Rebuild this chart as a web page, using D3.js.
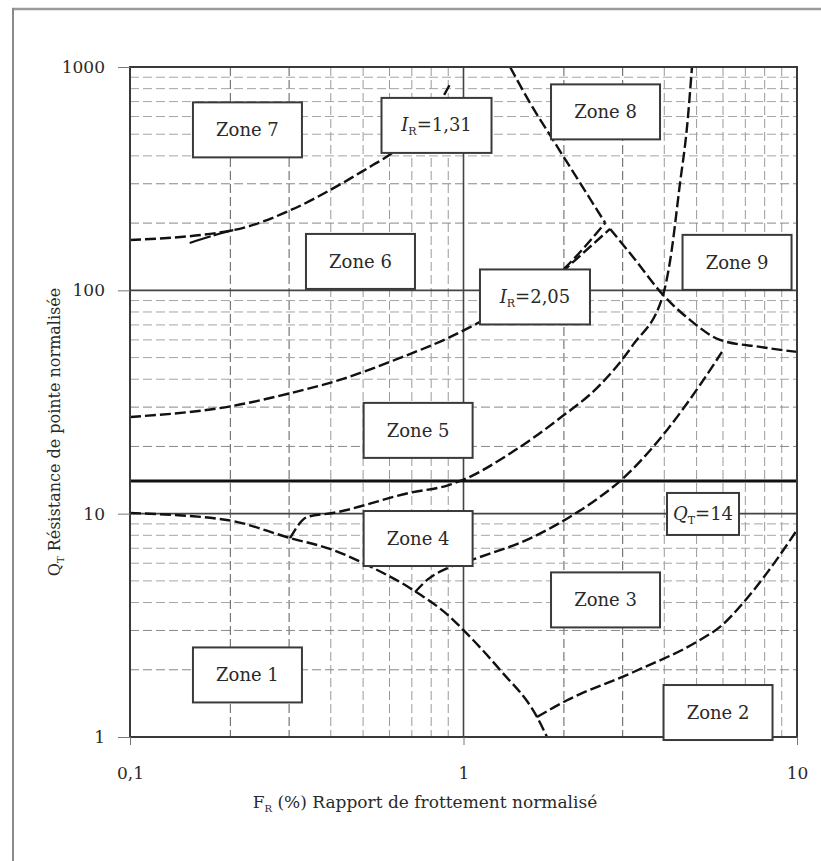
<!DOCTYPE html>
<html>
<head>
<meta charset="utf-8">
<script src="https://cdn.jsdelivr.net/npm/d3@7"></script>
<style>
  html, body { margin: 0; padding: 0; background: #fff; }
  svg { display: block; }
  text { font-family: "DejaVu Serif", "Liberation Serif", serif; fill: #2a2a2a; }
</style>
</head>
<body>
<svg id="chart" width="821" height="861"></svg>
<script>
// ---------- data (Fr %, Qt) ----------
const xTicks = [0.1, 1, 10];
const xTickLabels = ["0,1", "1", "10"];
const yTicks = [1, 10, 100, 1000];
const yTickLabels = ["1", "10", "100", "1000"];
const qtThreshold = 14;

// boundary I_R = 1,31 (zone 7 / zone 6)
const boundaryIR131 = [[0.1,168],[0.204,186],[0.304,229],[0.435,303],[0.535,364],[0.582,392],[0.868,735],[0.92,860]];
const boundaryIR131b = [[0.151,163],[0.19,181],[0.204,186]];
// boundary I_R = 2,05 (zone 6 / zone 5)
const boundaryIR205 = [[0.1,27.1],[0.204,30.4],[0.304,34.7],[0.406,38.9],[0.645,49.8],[0.899,61.2],[1.121,72.2],[1.972,122.2],[2.66,200.4]];
const boundaryIR205b = [[1.96,119.7],[2.75,188.4]];
// zone 8 lower-left boundary
const boundaryZone8 = [[1.379,1000],[1.583,690.6],[1.855,471.6],[2.236,302.7],[2.66,200.4]];
// zone 9 lower boundary
const boundaryZone9 = [[2.75,188.4],[3.223,141.1],[3.966,95.4],[4.777,73.7],[5.876,60.0],[7.746,55.8],[10,53.0]];
// zone 5 / zone 4 boundary then zone 8 / zone 9 boundary
const boundaryZone5 = [[0.302,7.78],[0.340,9.66],[0.406,10.07],[0.691,12.4],[0.899,13.4],[1.0,14.2],[1.379,18.6],[1.947,26.8],[2.567,37.7],[3.223,57.0],[3.966,95.4],[4.162,135],[4.46,302.7],[4.68,539],[4.843,1000]];
// zone 1 upper boundary
const boundaryZone1 = [[0.1,10.07],[0.195,9.37],[0.302,7.78],[0.406,6.88],[0.514,5.89],[0.706,4.55],[0.911,3.45],[1.0,3.01],[1.286,2.0],[1.661,1.23],[1.78,1.0]];
// zone 4 / zone 3 boundary
const boundaryZone4 = [[0.716,4.46],[0.778,5.05],[0.911,5.77],[1.098,6.33],[1.616,7.86],[2.13,9.87],[2.567,11.9],[2.947,14.0],[4.077,23.7],[5.118,37.7],[5.957,53.0]];
// zone 3 / zone 2 boundary
const boundaryZone3 = [[1.661,1.23],[2.044,1.46],[3.223,1.95],[5.118,2.72],[5.876,3.11],[6.889,3.98],[8.131,5.43],[10,8.45]];

// labels: text and centre in data units
const zoneNames = ["Zone 7","Zone 8","Zone 6","Zone 9","Zone 5","Zone 4","Zone 3","Zone 1","Zone 2"];
const zoneFr   = [0.225, 2.666, 0.491, 6.61, 0.731, 0.731, 2.666, 0.225, 5.797];
const zoneQt   = [523, 629.6, 134.7, 133.4, 23.6, 7.74, 4.11, 1.896, 1.287];
const irLabels = [{main:"I", sub:"R", rest:"=1,31", fr:0.830, qt:547.6}, {main:"I", sub:"R", rest:"=2,05", fr:1.638, qt:93.4}];
const qLabel = {main:"Q", sub:"T", rest:"=14", fr:5.226, qt:9.97};

// ---------- drawing ----------
const svg = d3.select("#chart");
const L = 130, R = 797, T = 67, B = 737;
const x = d3.scaleLog().domain([0.1, 10]).range([L, R]);
const y = d3.scaleLog().domain([1, 1000]).range([B, T]);

// outer frame (top and left edges visible)
svg.append("line").attr("x1", 12).attr("x2", 821).attr("y1", 9).attr("y2", 9)
  .attr("stroke", "#9a9a9a").attr("stroke-width", 2.5);
svg.append("line").attr("x1", 13).attr("x2", 13).attr("y1", 8).attr("y2", 861)
  .attr("stroke", "#8a8a8a").attr("stroke-width", 2);

const g = svg.append("g");

// minor grid
const minors = [];
[0.1, 1].forEach(d => { for (let k = 2; k <= 9; k++) minors.push(+(d * k).toFixed(2)); });
const minorsY = [];
[1, 10, 100].forEach(d => { for (let k = 2; k <= 9; k++) minorsY.push(d * k); });
const lead = v => { const m = v / Math.pow(10, Math.floor(Math.log10(v) + 1e-9)); return Math.round(m); };

g.selectAll("line.vx").data(minors).enter().append("line")
  .attr("x1", d => x(d)).attr("x2", d => x(d)).attr("y1", T).attr("y2", B)
  .attr("stroke", d => lead(d) <= 3 ? "#777" : "#9a9a9a")
  .attr("stroke-width", d => lead(d) <= 3 ? 1.2 : 1)
  .attr("stroke-dasharray", "9,4");
g.selectAll("line.hy").data(minorsY).enter().append("line")
  .attr("x1", L).attr("x2", R).attr("y1", d => y(d)).attr("y2", d => y(d))
  .attr("stroke", d => lead(d) <= 3 ? "#888" : "#a5a5a5")
  .attr("stroke-width", 1)
  .attr("stroke-dasharray", "9,4");

// decade lines
g.append("line").attr("x1", x(1)).attr("x2", x(1)).attr("y1", T).attr("y2", B)
  .attr("stroke", "#444").attr("stroke-width", 1.6);
[10, 100].forEach(v => g.append("line").attr("x1", L).attr("x2", R).attr("y1", y(v)).attr("y2", y(v))
  .attr("stroke", "#444").attr("stroke-width", 1.6));

// Qt = 14 line
g.append("line").attr("x1", L).attr("x2", R).attr("y1", y(qtThreshold)).attr("y2", y(qtThreshold))
  .attr("stroke", "#111").attr("stroke-width", 3);

// curves
const line = d3.line().x(d => x(d[0])).y(d => y(d[1])).curve(d3.curveMonotoneX);
const curves = [boundaryIR131, boundaryIR205, boundaryIR205b, boundaryZone8, boundaryZone9,
                boundaryZone5, boundaryZone1, boundaryZone4, boundaryZone3];
g.selectAll("path.curve").data(curves).enter().append("path")
  .attr("d", line).attr("fill", "none").attr("stroke", "#111")
  .attr("stroke-width", 2.4).attr("stroke-dasharray", "11,4");
g.append("path").attr("d", line(boundaryIR131b)).attr("fill", "none").attr("stroke", "#111")
  .attr("stroke-width", 2.2).attr("stroke-dasharray", "22,3");

// plot border
g.append("rect").attr("x", L).attr("y", T).attr("width", R - L).attr("height", B - T)
  .attr("fill", "none").attr("stroke", "#3a3a3a").attr("stroke-width", 2);

// label boxes
function box(cx, cy, w, h) {
  g.append("rect").attr("x", cx - w / 2).attr("y", cy - h / 2).attr("width", w).attr("height", h)
    .attr("fill", "#fff").attr("stroke", "#3a3a3a").attr("stroke-width", 2);
}
zoneNames.forEach((n, i) => {
  const cx = x(zoneFr[i]), cy = y(zoneQt[i]);
  box(cx, cy, 109, 55);
  g.append("text").attr("x", cx).attr("y", cy).attr("text-anchor", "middle")
    .attr("dominant-baseline", "central").attr("font-size", 18).text(n);
});
function subLabel(lb, w, h) {
  const cx = x(lb.fr), cy = y(lb.qt);
  box(cx, cy, w, h);
  const t = g.append("text").attr("x", cx).attr("y", cy + 6).attr("text-anchor", "middle").attr("font-size", 18);
  t.append("tspan").attr("font-style", "italic").text(lb.main);
  t.append("tspan").attr("font-size", 11).attr("dy", 4).text(lb.sub);
  t.append("tspan").attr("dy", -4).text(lb.rest);
}
irLabels.forEach(lb => subLabel(lb, 110, 55));
subLabel(qLabel, 72, 42);

// axes
const yAxis = d3.axisLeft(y).tickValues(yTicks).tickFormat((d, i) => yTickLabels[i]).tickSize(12).tickPadding(13);
const ya = svg.append("g").attr("transform", `translate(${L},0)`).call(yAxis);
ya.select(".domain").remove();
ya.selectAll("line").attr("stroke", "#777");
ya.selectAll("text").attr("font-size", 17).attr("font-family", "DejaVu Serif").attr("fill", "#2a2a2a");

const xAxis = d3.axisBottom(x).tickValues(xTicks).tickFormat((d, i) => xTickLabels[i]).tickSize(8).tickPadding(22);
const xa = svg.append("g").attr("transform", `translate(0,${B})`).call(xAxis);
xa.select(".domain").remove();
xa.selectAll("line").attr("stroke", "#777");
xa.selectAll("text").attr("font-size", 17).attr("font-family", "DejaVu Serif").attr("fill", "#2a2a2a");

// axis titles
const xt = svg.append("text").attr("x", 425).attr("y", 808).attr("text-anchor", "middle").attr("font-size", 17);
xt.append("tspan").text("F");
xt.append("tspan").attr("font-size", 10).attr("dy", 4).text("R");
xt.append("tspan").attr("dy", -4).text(" (%) Rapport de frottement normalisé");

const yt = svg.append("text").attr("transform", "translate(60,432) rotate(-90)").attr("text-anchor", "middle").attr("font-size", 16);
yt.append("tspan").text("Q");
yt.append("tspan").attr("font-size", 10).attr("dy", 4).text("T");
yt.append("tspan").attr("dy", -4).text(" Résistance de pointe normalisée");
</script>
</body>
</html>
